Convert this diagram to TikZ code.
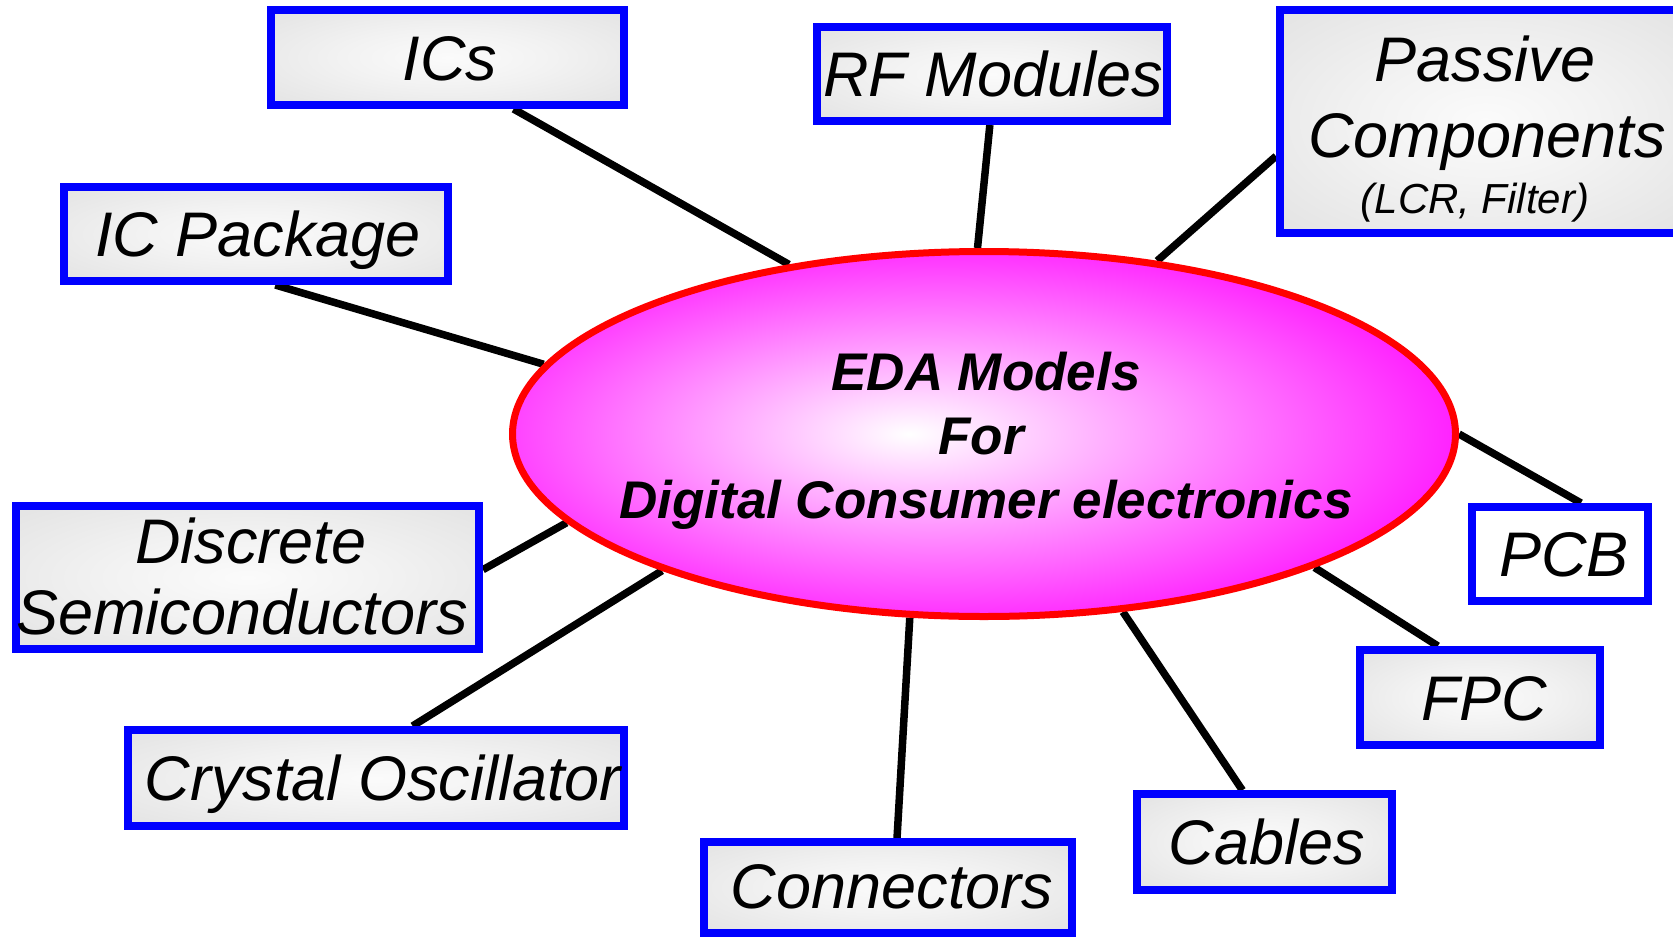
\documentclass[tikz,border=0pt]{standalone}
\usepackage{fontspec}
\setmainfont{Liberation Sans}
\usetikzlibrary{shapes.geometric,calc}
\pgfdeclarelayer{bg}
\pgfsetlayers{bg,main}
\definecolor{boxblue}{RGB}{0,0,255}
\definecolor{ellred}{RGB}{255,0,0}
\definecolor{ellmag}{RGB}{255,16,255}
\definecolor{boxin}{RGB}{251,251,251}
\definecolor{boxmid}{RGB}{242,242,242}
\definecolor{boxout}{RGB}{229,229,229}
\pgfdeclareradialshading{boxshade}{\pgfpoint{0bp}{0bp}}{color(0bp)=(boxin); color(15bp)=(boxmid); color(33bp)=(boxout); color(50bp)=(boxout)}
\pgfdeclareradialshading{ellshade}{\pgfpoint{-4bp}{0bp}}{color(0bp)=(white); color(29bp)=(ellmag); color(50bp)=(ellmag)}
\tikzset{
  boxn/.style={rectangle, draw=boxblue, line width=8pt, shade, shading=boxshade, inner sep=0pt},
  plainbox/.style={rectangle, draw=boxblue, line width=8pt, fill=white, inner sep=0pt},
  lbl/.style={font=\fontsize{63}{76}\selectfont\itshape, anchor=base, inner sep=0pt},
  sml/.style={font=\fontsize{42}{50}\selectfont\itshape, anchor=base, inner sep=0pt},
  ctr/.style={font=\fontsize{53}{64}\selectfont\bfseries\itshape, anchor=base, inner sep=0pt},
  conn/.style={line width=7.5pt, black},
}
\begin{document}
\begin{tikzpicture}[x=1pt,y=-1pt]
\useasboundingbox (0,0) rectangle (1673,937);
\begin{pgfonlayer}{bg}
\fill[white] (0,0) rectangle (1673,937);
\end{pgfonlayer}
% boxes
\node[boxn, minimum width=353pt, minimum height=95pt] (ics) at (447.5,57.5) {};
\node[boxn, minimum width=350.5pt, minimum height=94pt] (rf) at (992,74) {};
\node[boxn, minimum width=410pt, minimum height=223pt] (pas) at (1485,121.5) {};
\node[boxn, minimum width=383.5pt, minimum height=94pt] (icp) at (255.75,234) {};
\node[boxn, minimum width=463pt, minimum height=143pt] (dis) at (247.5,577.5) {};
\node[boxn, minimum width=496.5pt, minimum height=96pt] (cry) at (375.75,778) {};
\node[boxn, minimum width=368pt, minimum height=91pt] (con) at (888,887.5) {};
\node[boxn, minimum width=255pt, minimum height=95.5pt] (cab) at (1264.5,842) {};
\node[boxn, minimum width=240pt, minimum height=95pt] (fpc) at (1480,697.5) {};
\node[plainbox, minimum width=176pt, minimum height=94pt] (pcb) at (1560,554) {};
% centre ellipse
\node[ellipse, draw=ellred, line width=7pt, shade, shading=ellshade, minimum width=943pt, minimum height=365pt, inner sep=0pt] (eda) at (984,434) {};
% texts
\node[ctr] (eda1) at (986,390) {EDA Models};
\node[ctr] (eda2) at (981,454) {For};
\node[ctr] (eda3) at (986,518) {Digital Consumer electronics};
\node[lbl] (ics-t) at (450,80) {ICs};
\node[lbl] (rf-t) at (993,96.5) {RF Modules};
\node[lbl] (pas-t1) at (1485,81) {Passive};
\node[lbl] (pas-t2) at (1487,157) {Components};
\node[sml] (pas-t3) at (1475,213) {(LCR, Filter)};
\node[lbl] (icp-t) at (258,256) {IC Package};
\node[lbl] (dis-t1) at (251,563) {Discrete};
\node[lbl] (dis-t2) at (242,634) {Semiconductors};
\node[lbl] (cry-t) at (383,800) {Crystal Oscillator};
\node[lbl] (con-t) at (892,908) {Connectors};
\node[lbl] (cab-t) at (1267,864) {Cables};
\node[lbl] (fpc-t) at (1484,720) {FPC};
\node[lbl] (pcb-t) at (1564,576) {PCB};
% connectors
\begin{pgfonlayer}{bg}
\draw[conn] ($(ics.south west)!0.683!(ics.south east)$) -- (eda.139.3);
\draw[conn] ($(rf.south west)!0.494!(rf.south east)$) -- (eda.92.5);
\draw[conn] ($(pas.north west)!0.65!(pas.south west)$) -- (eda.45.3);
\draw[conn] ($(icp.south west)!0.55!(icp.south east)$) -- (eda.171.9);
\draw[conn] ($(dis.north east)!0.448!(dis.south east)$) -- (eda.192.4);
\draw[conn] ($(cry.north west)!0.573!(cry.north east)$) -- (eda.203.8);
\draw[conn] ($(con.north west)!0.524!(con.north east)$) -- (eda.248.7);
\draw[conn] ($(cab.north west)!0.416!(cab.north east)$) -- (eda.308.3);
\draw[conn] ($(fpc.north west)!0.33!(fpc.north east)$) -- (eda.338);
\draw[conn] ($(pcb.north west)!0.614!(pcb.north east)$) -- (eda.0);
\end{pgfonlayer}
\end{tikzpicture}
\end{document}
